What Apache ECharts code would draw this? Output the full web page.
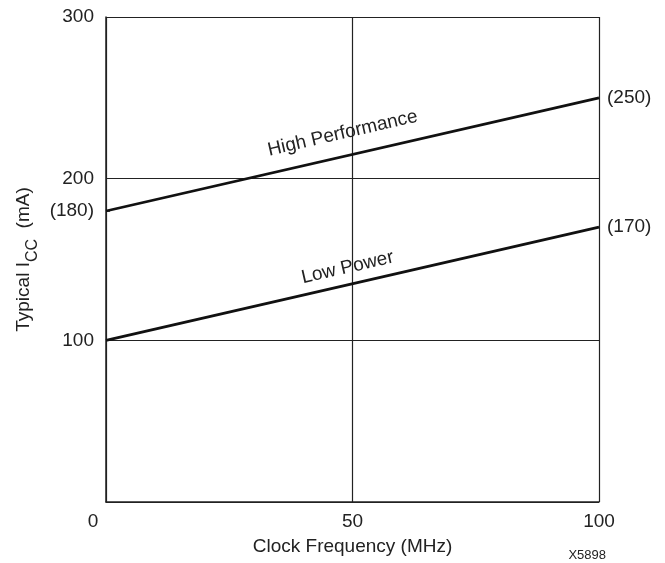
<!DOCTYPE html>
<html><head><meta charset="utf-8">
<script src="https://cdn.jsdelivr.net/npm/echarts@6/dist/echarts.min.js"></script>
<style>html,body{margin:0;padding:0;background:#fff;}#c{width:665px;height:563px;}</style>
</head><body><div id="c"></div>
<script>
const xTicks = [0, 50, 100];
const yTicks = [100, 200, 300];
const highPerf = [[0, 180], [100, 250]];
const lowPower = [[0, 100], [100, 170]];
const startMarks = [180];
const seriesNames = ['High Performance', 'Low Power'];
const figId = 'X5898';

const FONT = 'Liberation Sans, Arial, sans-serif';
const FS = 19;
const chart = echarts.init(document.getElementById('c'));
const axisLineStyle = { color: '#222', width: 1.5 };
chart.setOption({
  animation: false,
  grid: { left: 106, right: 66, top: 17, bottom: 61 },
  xAxis: {
    type: 'value', min: 0, max: 100, interval: 50,
    name: 'Clock Frequency (MHz)', nameLocation: 'middle', nameGap: 35,
    nameTextStyle: { fontFamily: FONT, fontSize: FS, color: '#222' },
    axisLine: { show: true, onZero: false, lineStyle: axisLineStyle },
    axisTick: { show: false },
    axisLabel: { fontFamily: FONT, fontSize: FS, color: '#222', margin: 10,
      customValues: xTicks,
      formatter: v => v === 0 ? '{z|0}' : String(v),
      rich: { z: { fontFamily: FONT, fontSize: FS, color: '#222', padding: [0, 26, 0, 0] } } },
    splitLine: { show: true, lineStyle: { color: '#222', width: 1.2 } }
  },
  yAxis: [{
    type: 'value', min: 0, max: 300, interval: 100,
    name: '{a|Typical I}{b|CC}{a|  (mA)}', nameLocation: 'middle', nameGap: 70, nameRotate: 90,
    nameTextStyle: { rich: {
      a: { fontFamily: FONT, fontSize: FS, color: '#222', lineHeight: 24, verticalAlign: 'middle' },
      b: { fontFamily: FONT, fontSize: 16, color: '#222', lineHeight: 24, verticalAlign: 'bottom', padding: [0, 0, -5, 0] }
    } },
    axisLine: { show: true, lineStyle: axisLineStyle },
    axisTick: { show: false },
    axisLabel: { fontFamily: FONT, fontSize: FS, color: '#222', margin: 12, customValues: yTicks },
    splitLine: { show: true, lineStyle: { color: '#222', width: 1.2 } }
  }, {
    type: 'value', min: 0, max: 300, position: 'left',
    axisLine: { show: false },
    axisTick: { show: true, inside: true, length: 4, lineStyle: { color: '#222', width: 1.5 }, customValues: startMarks },
    axisLabel: { fontFamily: FONT, fontSize: FS, color: '#222', margin: 12, customValues: startMarks,
      formatter: v => '(' + v + ')' },
    splitLine: { show: false }
  }],
  series: [
    { type: 'line', name: seriesNames[0], data: highPerf, symbol: 'none', yAxisIndex: 0,
      lineStyle: { color: '#111', width: 2.8 },
      endLabel: { show: true, fontFamily: FONT, fontSize: FS, color: '#222', distance: 8,
        formatter: p => '(' + p.value[1] + ')' } },
    { type: 'line', name: seriesNames[1], data: lowPower, symbol: 'none', yAxisIndex: 0,
      lineStyle: { color: '#111', width: 2.8 },
      endLabel: { show: true, fontFamily: FONT, fontSize: FS, color: '#222', distance: 8,
        formatter: p => '(' + p.value[1] + ')' } }
  ]
});

// line captions, rotated along the slope of each line
function slopeAngle(data) {
  const p0 = chart.convertToPixel({ gridIndex: 0 }, data[0]);
  const p1 = chart.convertToPixel({ gridIndex: 0 }, data[1]);
  return Math.atan2(p0[1] - p1[1], p1[0] - p0[0]);
}
const capHP = chart.convertToPixel({ gridIndex: 0 }, [48, 228]);
const capLP = chart.convertToPixel({ gridIndex: 0 }, [49, 145]);
chart.setOption({
  graphic: [
    { type: 'text', x: capHP[0], y: capHP[1], rotation: slopeAngle(highPerf),
      style: { text: seriesNames[0], font: FS + 'px ' + FONT, fill: '#222', align: 'center', verticalAlign: 'middle' } },
    { type: 'text', x: capLP[0], y: capLP[1], rotation: slopeAngle(lowPower),
      style: { text: seriesNames[1], font: FS + 'px ' + FONT, fill: '#222', align: 'center', verticalAlign: 'middle' } },
    { type: 'text', right: 59, top: 549,
      style: { text: figId, font: '13px ' + FONT, fill: '#222' } }
  ]
});
</script></body></html>
